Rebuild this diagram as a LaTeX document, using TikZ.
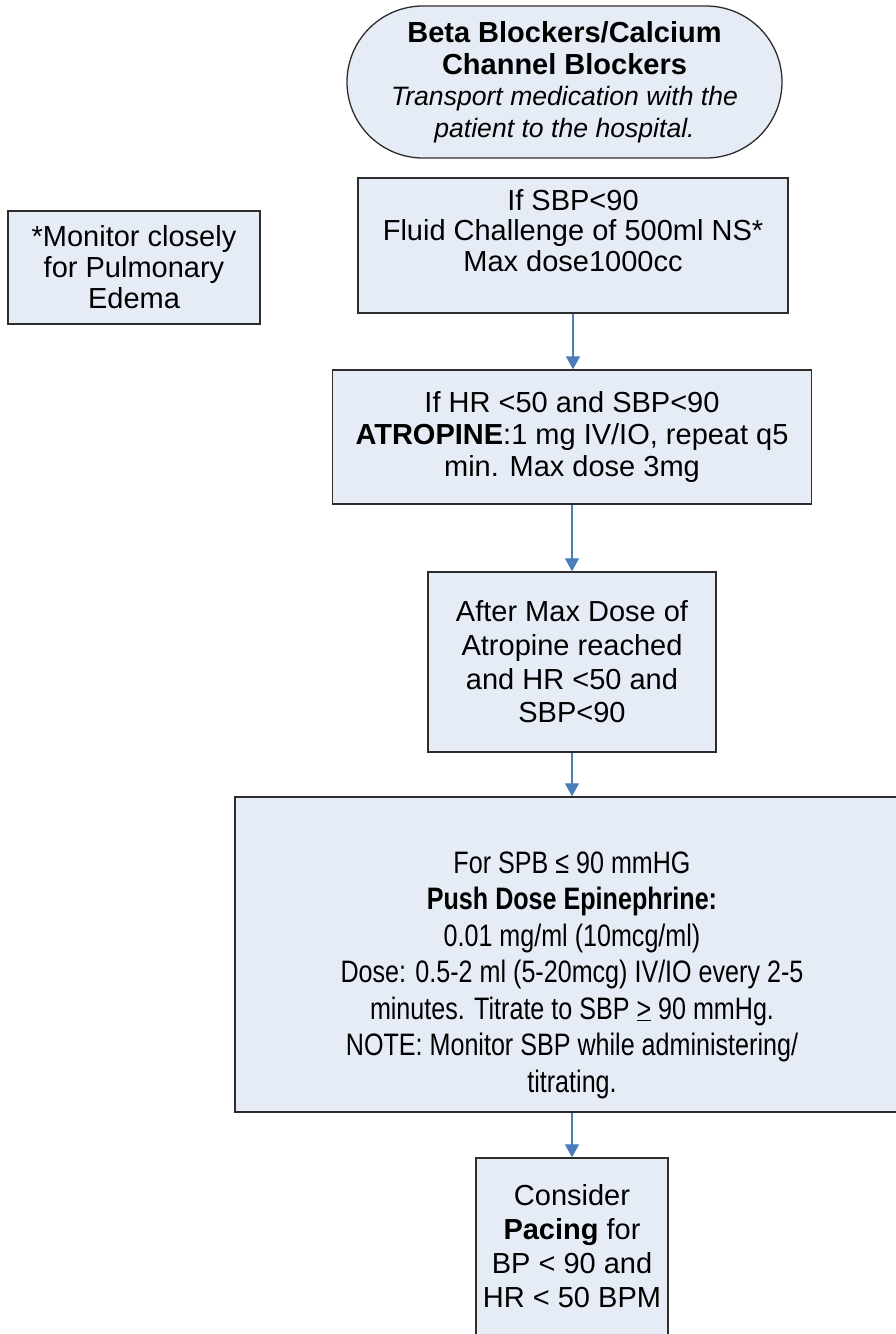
\documentclass[tikz,border=0pt]{standalone}
\usepackage{fontspec}
\setmainfont{Liberation Sans}
\newfontfamily\narrowfont{Liberation Sans}[FakeStretch=0.81]
\usetikzlibrary{arrows.meta,shapes.misc}
\definecolor{boxfill}{RGB}{230,236,246}
\definecolor{boxline}{RGB}{45,45,45}
\definecolor{arrblue}{RGB}{74,126,187}
\tikzset{
  flowbox/.style={draw=boxline, line width=1.3pt, fill=boxfill, align=center,
    inner sep=0pt, font=\fontsize{29}{32}\selectfont},
  termbox/.style={flowbox, rounded rectangle},
  arr/.style={draw=arrblue, line width=1.2pt, -{Triangle[width=14pt,length=13pt]}}
}
\newcommand{\itline}[1]{{\fontsize{26.6}{31.5}\selectfont\itshape #1}}
\begin{document}
\begin{tikzpicture}[x=1pt,y=-1pt]
\useasboundingbox (0,0) rectangle (895,1334);
\node[termbox, minimum width=435pt, minimum height=152pt, font=\fontsize{29}{31.5}\selectfont] (term) at (564.5,82)
  {\textbf{Beta Blockers/Calcium}\\\textbf{Channel Blockers}\\\itline{Transport medication with the}\\\itline{patient to the hospital.}};
\node[flowbox, minimum width=430pt, minimum height=135pt, font=\fontsize{29}{30.5}\selectfont] (b1) at (573,245.5)
  {If SBP<90\\Fluid Challenge of 500ml NS*\\Max dose1000cc\\\mbox{}};
\node[flowbox, minimum width=252pt, minimum height=113pt, font=\fontsize{29}{31}\selectfont] (mon) at (134,267.5)
  {*Monitor closely\\for Pulmonary\\Edema};
\node[flowbox, minimum width=479pt, minimum height=134pt] (b2) at (572,437)
  {If HR <50 and SBP<90\\\textbf{ATROPINE}:1 mg IV/IO, repeat q5\\min. Max dose 3mg};
\node[flowbox, minimum width=288pt, minimum height=180pt, font=\fontsize{29}{33.6}\selectfont] (b3) at (572,662)
  {After Max Dose of\\Atropine reached\\and HR <50 and\\SBP<90};
\node[flowbox, minimum width=674pt, minimum height=315pt, font=\narrowfont\fontsize{31}{36.5}\selectfont] (b4) at (572,954.5)
  {\mbox{}\\[26pt]For SPB ≤ 90 mmHG\\\textbf{Push Dose Epinephrine:}\\0.01 mg/ml (10mcg/ml)\\Dose: 0.5-2 ml (5-20mcg) IV/IO every 2-5\\minutes. Titrate to SBP \underline{>} 90 mmHg.\\NOTE: Monitor SBP while administering/\\titrating.};
\node[flowbox, minimum width=192pt, minimum height=186pt, font=\fontsize{29}{34}\selectfont] (b5) at (572,1251)
  {Consider\\\textbf{Pacing} for\\BP < 90 and\\HR < 50 BPM\\[-24pt]\mbox{}};
\draw[arr] (b1.south) -- (b1.south |- b2.north);
\draw[arr] (b2.south) -- (b3.north);
\draw[arr] (b3.south) -- (b4.north);
\draw[arr] (b4.south) -- (b5.north);
\end{tikzpicture}
\end{document}
